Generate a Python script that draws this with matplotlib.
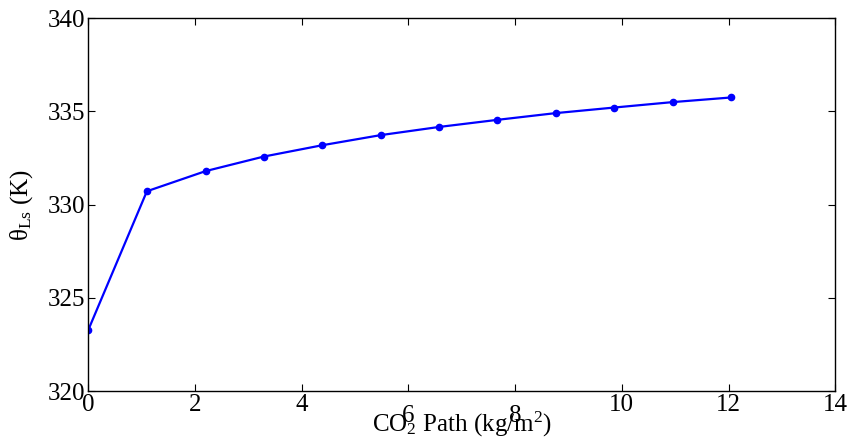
import matplotlib
matplotlib.use('Agg')
import matplotlib.pyplot as plt
from matplotlib.transforms import ScaledTranslation

plt.rcParams['font.family'] = ['Liberation Serif', 'DejaVu Serif']
plt.rcParams['mathtext.fontset'] = 'custom'
plt.rcParams['mathtext.rm'] = 'Liberation Serif'
plt.rcParams['mathtext.it'] = 'Liberation Serif:italic'

# CO2 path (kg/m2) and theta_Ls (K)
co2_path = [0, 1.10, 2.20, 3.29, 4.39, 5.48, 6.58, 7.67, 8.76, 9.86, 10.95, 12.05]
theta_ls = [323.27, 330.72, 331.80, 332.58, 333.19, 333.73, 334.17,
            334.55, 334.91, 335.21, 335.50, 335.75]

xticks = [0, 2, 4, 6, 8, 10, 12, 14]
yticks = [320, 325, 330, 335, 340]

fig = plt.figure(figsize=(8.48, 4.44), dpi=100)
ax = fig.add_axes([0.104, 0.119, 0.881, 0.840])

ax.plot(co2_path, theta_ls, color='#0000ff', lw=1.6, marker='o', ms=4.5)

ax.set_xlim(0, 14)
ax.set_ylim(320, 340)
ax.set_xticks(xticks)
ax.set_xticklabels([str(t) for t in xticks])
ax.set_yticks(yticks)
ax.set_yticklabels([str(t) for t in yticks])
ax.tick_params(direction='in', length=5, width=0.8, labelsize=18,
               top=True, right=True, pad=2)
for s in ax.spines.values():
    s.set_linewidth(1.0)

ax.set_xlabel('CO$_2$ Path (kg/m$^2$)', fontsize=18, labelpad=-12)
ax.set_ylabel(r'θ$_{\mathrm{Ls}}$ (K)', fontsize=18, labelpad=9)

fig.canvas.draw()
# labels 6 and 8 sit a bit lower in the original
ticks = ax.xaxis.get_major_ticks()
for t in ticks[3:5]:
    t.label1.set_transform(t.label1.get_transform() +
                           ScaledTranslation(0, -0.11, fig.dpi_scale_trans))

fig.savefig('out.png', dpi=100)
